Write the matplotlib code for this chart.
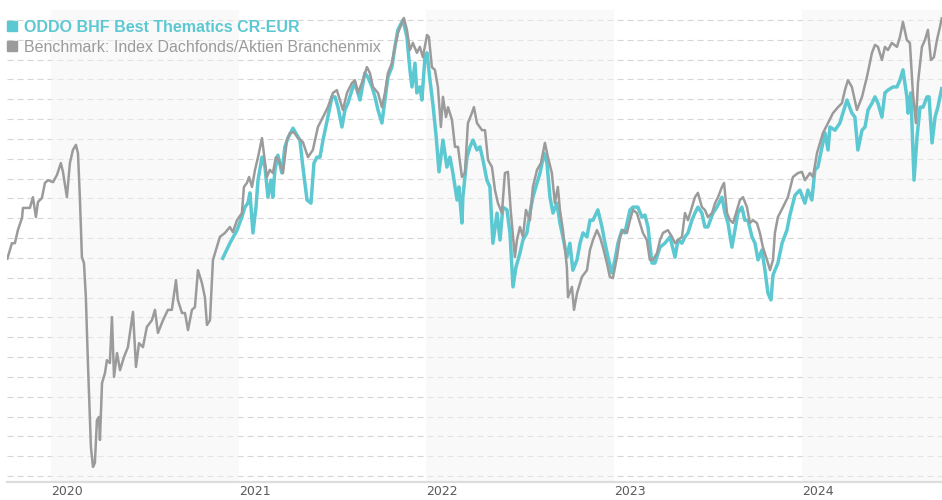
import numpy as np
import matplotlib
matplotlib.use("Agg")
import matplotlib.pyplot as plt
from matplotlib.lines import Line2D

# ---------------- data (decimal year, index level) ----------------
bench_t = [
    2019.766, 2019.792, 2019.808, 2019.824, 2019.846, 2019.851, 2019.888, 2019.904, 2019.920, 2019.931,
    2019.952, 2019.968, 2019.984,
    2020.011, 2020.032, 2020.053, 2020.064, 2020.085, 2020.101, 2020.117, 2020.133, 2020.144, 2020.154,
    2020.165, 2020.176, 2020.186, 2020.197, 2020.213, 2020.224, 2020.234, 2020.245, 2020.256, 2020.261,
    2020.272, 2020.288, 2020.298, 2020.314, 2020.325, 2020.336, 2020.352, 2020.368, 2020.389, 2020.410,
    2020.437, 2020.453, 2020.469, 2020.490, 2020.511, 2020.538, 2020.554, 2020.570, 2020.597, 2020.623,
    2020.644, 2020.666, 2020.676, 2020.698, 2020.714, 2020.730, 2020.751, 2020.767, 2020.783, 2020.804,
    2020.820, 2020.831, 2020.847, 2020.863, 2020.879, 2020.900, 2020.927, 2020.953, 2020.969, 2020.991,
    2021.017, 2021.028, 2021.044, 2021.055, 2021.071, 2021.087, 2021.103, 2021.124, 2021.134, 2021.150,
    2021.166, 2021.182, 2021.198, 2021.214, 2021.236, 2021.257, 2021.273, 2021.294, 2021.316, 2021.342,
    2021.369, 2021.395, 2021.422, 2021.449, 2021.475, 2021.502, 2021.523, 2021.539, 2021.555, 2021.577,
    2021.603, 2021.619, 2021.635, 2021.656, 2021.683, 2021.699, 2021.715, 2021.742, 2021.763, 2021.779,
    2021.795, 2021.816, 2021.832, 2021.848, 2021.880, 2021.896, 2021.912, 2021.928, 2021.949, 2021.965,
    2021.981,
    2022.003, 2022.013, 2022.029, 2022.045, 2022.061, 2022.077, 2022.088, 2022.104, 2022.115, 2022.136,
    2022.152, 2022.168, 2022.189, 2022.205, 2022.221, 2022.242, 2022.253, 2022.269, 2022.296, 2022.312,
    2022.328, 2022.349, 2022.365, 2022.381, 2022.402, 2022.418, 2022.434, 2022.450, 2022.471, 2022.482,
    2022.498, 2022.514, 2022.530, 2022.551, 2022.567, 2022.589, 2022.610, 2022.631, 2022.647, 2022.668,
    2022.684, 2022.700, 2022.711, 2022.727, 2022.748, 2022.754, 2022.775, 2022.786, 2022.802, 2022.828,
    2022.855, 2022.871, 2022.887, 2022.908, 2022.924, 2022.940, 2022.961, 2022.977, 2022.993,
    2023.015, 2023.031, 2023.047, 2023.068, 2023.084, 2023.100, 2023.121, 2023.137, 2023.153, 2023.174,
    2023.190, 2023.206, 2023.228, 2023.244, 2023.260, 2023.286, 2023.308, 2023.324, 2023.340, 2023.361,
    2023.377, 2023.393, 2023.414, 2023.430, 2023.446, 2023.467, 2023.483, 2023.499, 2023.521, 2023.537,
    2023.553, 2023.574, 2023.585, 2023.601, 2023.617, 2023.633, 2023.654, 2023.670, 2023.686, 2023.707,
    2023.723, 2023.739, 2023.760, 2023.776, 2023.792, 2023.814, 2023.830, 2023.846, 2023.856, 2023.872,
    2023.899, 2023.925, 2023.952, 2023.979,
    2024.000, 2024.016, 2024.043, 2024.059, 2024.080, 2024.096, 2024.112, 2024.139, 2024.165, 2024.192,
    2024.213, 2024.229, 2024.245, 2024.266, 2024.293, 2024.320, 2024.346, 2024.373, 2024.389, 2024.405,
    2024.426, 2024.442, 2024.458, 2024.479, 2024.506, 2024.522, 2024.538, 2024.559, 2024.575, 2024.591,
    2024.607, 2024.618, 2024.639, 2024.655, 2024.671, 2024.687, 2024.703, 2024.719, 2024.735, 2024.746,
]
bench_v = [
    54.5, 58.7, 58.7, 62.0, 65.1, 67.6, 67.6, 70.3, 65.3, 69.1,
    70.1, 73.9, 74.6,
    74.1, 75.9, 78.9, 76.7, 70.3, 78.9, 82.2, 83.5, 81.4, 70.3,
    55.2, 53.7, 45.1, 28.5, 7.3, 2.3, 3.3, 14.1, 14.9, 9.1,
    23.4, 26.0, 29.2, 28.5, 40.1, 25.0, 31.0, 26.7, 30.0, 32.5,
    41.4, 27.5, 33.5, 32.5, 37.6, 39.3, 41.9, 36.1, 39.3, 41.9,
    41.9, 49.4, 44.4, 41.1, 41.1, 36.8, 41.9, 42.6, 51.9, 48.7,
    45.1, 38.1, 39.3, 54.5, 57.0, 60.3, 61.3, 62.8, 61.5, 64.5,
    66.3, 72.9, 73.9, 75.4, 72.9, 77.2, 80.4, 85.2, 81.4, 75.4,
    77.2, 76.4, 80.4, 79.7, 76.4, 84.7, 86.5, 86.7, 85.2, 84.2,
    80.4, 82.2, 88.0, 90.5, 93.0, 96.6, 97.3, 94.8, 92.3, 96.6,
    99.1, 99.8, 96.6, 99.1, 103.1, 101.6, 98.1, 96.6, 93.0, 96.6,
    101.6, 104.1, 108.2, 111.7, 115.5, 112.5, 107.4, 109.2, 106.7, 108.2,
    105.6,
    111.2, 110.7, 103.1, 102.4, 98.1, 88.0, 95.6, 90.5, 93.0, 89.8,
    83.0, 83.0, 75.4, 76.4, 89.0, 91.5, 93.0, 89.0, 87.2, 87.2,
    79.7, 77.9, 72.1, 68.8, 66.3, 76.4, 76.7, 66.3, 55.2, 59.5,
    62.8, 60.3, 67.1, 64.5, 72.9, 77.2, 78.9, 84.0, 80.4, 76.4,
    68.8, 72.9, 67.1, 62.0, 52.7, 45.1, 47.7, 41.9, 46.1, 50.2,
    51.9, 57.0, 59.5, 62.0, 60.3, 57.7, 53.7, 50.2, 49.9,
    55.2, 60.3, 62.0, 61.3, 64.5, 67.1, 66.3, 63.8, 61.3, 59.5,
    54.5, 54.5, 56.2, 59.5, 61.3, 62.0, 60.3, 58.7, 59.5, 60.3,
    66.3, 64.5, 67.8, 70.3, 71.4, 67.8, 67.1, 65.3, 66.3, 68.8,
    70.3, 72.9, 73.9, 66.3, 64.5, 63.8, 67.1, 69.6, 70.3, 67.8,
    63.8, 64.5, 63.8, 61.3, 57.7, 54.5, 51.9, 54.5, 61.3, 65.3,
    67.8, 70.3, 75.4, 76.4,
    76.7, 74.6, 76.4, 75.4, 81.4, 84.0, 86.5, 89.0, 91.5, 93.0,
    94.0, 97.3, 99.8, 98.1, 92.3, 95.6, 100.6, 106.7, 108.7, 108.2,
    104.9, 108.2, 107.4, 109.2, 108.2, 110.7, 114.5, 109.9, 109.2, 96.6,
    89.0, 99.1, 108.2, 109.9, 112.5, 104.9, 105.6, 109.9, 113.2, 115.7,
]

fund_t = [
    2020.911, 2020.953, 2020.991,
    2021.017, 2021.033, 2021.049, 2021.060, 2021.076, 2021.092, 2021.103, 2021.124, 2021.140, 2021.156,
    2021.172, 2021.182, 2021.193, 2021.209, 2021.230, 2021.246, 2021.262, 2021.289, 2021.310, 2021.326,
    2021.342, 2021.364, 2021.385, 2021.401, 2021.417, 2021.433, 2021.449, 2021.475, 2021.497, 2021.513,
    2021.529, 2021.550, 2021.566, 2021.582, 2021.603, 2021.619, 2021.646, 2021.672, 2021.688, 2021.710,
    2021.726, 2021.742, 2021.763, 2021.779, 2021.795, 2021.816, 2021.832, 2021.848, 2021.875, 2021.896,
    2021.912, 2021.923, 2021.939, 2021.949, 2021.965, 2021.976, 2021.992,
    2022.003, 2022.019, 2022.035, 2022.051, 2022.067, 2022.088, 2022.109, 2022.125, 2022.141, 2022.163,
    2022.173, 2022.189, 2022.194, 2022.216, 2022.232, 2022.248, 2022.269, 2022.285, 2022.301, 2022.322,
    2022.338, 2022.354, 2022.376, 2022.392, 2022.407, 2022.429, 2022.445, 2022.461, 2022.477, 2022.498,
    2022.514, 2022.535, 2022.551, 2022.567, 2022.589, 2022.605, 2022.626, 2022.642, 2022.658, 2022.674,
    2022.695, 2022.711, 2022.727, 2022.748, 2022.764, 2022.780, 2022.802, 2022.818, 2022.834, 2022.855,
    2022.871, 2022.887, 2022.913, 2022.935, 2022.951, 2022.967, 2022.988,
    2023.004, 2023.020, 2023.041, 2023.057, 2023.084, 2023.100, 2023.126, 2023.148, 2023.164, 2023.180,
    2023.201, 2023.217, 2023.244, 2023.270, 2023.297, 2023.324, 2023.340, 2023.361, 2023.377, 2023.393,
    2023.414, 2023.430, 2023.446, 2023.467, 2023.483, 2023.499, 2023.526, 2023.547, 2023.574, 2023.590,
    2023.606, 2023.627, 2023.643, 2023.659, 2023.680, 2023.696, 2023.712, 2023.734, 2023.750, 2023.766,
    2023.787, 2023.803, 2023.819, 2023.835, 2023.846, 2023.872, 2023.894, 2023.920, 2023.936, 2023.963,
    2023.989,
    2024.016, 2024.032, 2024.053, 2024.069, 2024.085, 2024.107, 2024.123, 2024.139, 2024.149, 2024.176,
    2024.202, 2024.218, 2024.240, 2024.266, 2024.282, 2024.298, 2024.320, 2024.336, 2024.352, 2024.373,
    2024.389, 2024.405, 2024.426, 2024.442, 2024.458, 2024.485, 2024.506, 2024.522, 2024.538, 2024.559,
    2024.565, 2024.580, 2024.597, 2024.613, 2024.629, 2024.645, 2024.666, 2024.677, 2024.693, 2024.709,
    2024.724, 2024.746,
]
fund_v = [
    54.5, 58.7, 62.0,
    65.3, 67.8, 68.8, 71.4, 61.3, 67.8, 74.6, 80.4, 77.9, 70.3,
    74.6, 70.3, 77.2, 80.9, 76.4, 83.0, 85.2, 87.7, 86.0, 84.7,
    77.9, 69.6, 68.8, 78.9, 80.4, 80.4, 84.7, 90.5, 95.6, 95.6,
    93.0, 88.0, 92.3, 94.0, 97.3, 99.1, 94.8, 101.6, 100.6, 98.1,
    95.6, 92.3, 89.0, 94.8, 100.6, 103.1, 108.2, 112.5, 115.0, 110.7,
    102.4, 98.1, 104.1, 96.6, 98.1, 94.8, 105.6,
    106.7, 99.8, 93.5, 86.0, 76.7, 84.7, 77.9, 80.4, 76.4, 69.6,
    72.9, 63.8, 70.3, 80.4, 83.0, 84.7, 82.2, 83.0, 79.7, 74.6,
    72.9, 58.7, 66.3, 59.5, 67.8, 67.1, 61.3, 47.7, 52.7, 56.2,
    59.5, 61.3, 66.3, 70.3, 73.9, 76.4, 81.4, 78.9, 70.3, 66.3,
    68.8, 63.8, 60.3, 55.2, 58.7, 51.9, 54.5, 58.7, 61.3, 60.3,
    64.5, 64.5, 67.1, 62.8, 58.7, 55.2, 51.2,
    54.5, 58.7, 62.0, 61.3, 67.1, 67.8, 67.8, 65.3, 65.8, 62.8,
    53.7, 53.7, 57.7, 58.7, 60.3, 55.2, 59.5, 58.7, 60.3, 61.3,
    64.5, 66.3, 67.8, 66.3, 62.8, 62.8, 66.3, 67.8, 70.3, 66.3,
    63.8, 57.7, 62.0, 66.3, 67.8, 64.5, 64.5, 60.3, 58.7, 54.5,
    57.0, 51.9, 46.1, 44.4, 50.7, 53.7, 58.7, 62.0, 65.8, 70.8,
    72.1,
    68.8, 72.1, 69.6, 77.2, 77.9, 83.0, 86.5, 82.2, 88.0, 87.2,
    89.0, 91.5, 94.8, 91.5, 90.5, 82.2, 87.2, 88.0, 92.3, 94.0,
    95.6, 94.0, 90.5, 96.6, 97.3, 98.1, 98.1, 99.8, 102.4, 95.6,
    91.5, 96.6, 74.6, 85.5, 93.0, 93.0, 95.6, 95.6, 84.0, 90.5,
    93.0, 98.1,
]

years = [2020, 2021, 2022, 2023, 2024]
year_labels = ["2020", "2021", "2022", "2023", "2024"]
shaded_years = [2020, 2022, 2024]

fund_name = "ODDO BHF Best Thematics CR-EUR"
bench_name = "Benchmark: Index Dachfonds/Aktien Branchenmix"

assert len(bench_t) == len(bench_v)
assert len(fund_t) == len(fund_v)

# ---------------- styling ----------------
FUND_COLOR = "#5cc8d1"
BENCH_COLOR = "#9b9b9b"

fig = plt.figure(figsize=(9.42, 5.0), dpi=100)
ax = fig.add_axes([7 / 942, 18 / 500, 935 / 942, 472 / 500])

xmin, xmax = 2019.766, 2024.746
ax.set_xlim(xmin, xmax)
ax.set_ylim(-1.5, 117.5)

for y0 in shaded_years:
    ax.axvspan(y0, min(y0 + 1, xmax), color="#f4f4f4", alpha=0.5, lw=0, zorder=1)

ax.set_yticks(np.arange(0, 116, 5))
ax.set_yticklabels([])
ax.tick_params(axis="y", length=0)
ax.grid(axis="y", color="#d6d6d6", linestyle=(0, (5.5, 3.5)), linewidth=0.8, zorder=0.5)
ax.set_axisbelow(True)

ax.plot(fund_t, fund_v, color=FUND_COLOR, lw=2.5, zorder=3,
        solid_joinstyle="round", solid_capstyle="butt")
ax.plot(bench_t, bench_v, color=BENCH_COLOR, lw=1.8, zorder=4,
        solid_joinstyle="round", solid_capstyle="butt")

for s in ["top", "right", "left"]:
    ax.spines[s].set_visible(False)
ax.spines["bottom"].set_color("#dddddd")
ax.spines["bottom"].set_linewidth(1.6)

ax.set_xticks(years)
ax.set_xticklabels(year_labels, ha="left", fontsize=9, color="#5a5a5a",
                   family="DejaVu Sans")
ax.tick_params(axis="x", length=0, pad=2.5)

handles = [
    Line2D([], [], marker="s", linestyle="none", color=FUND_COLOR, markersize=7.5),
    Line2D([], [], marker="s", linestyle="none", color=BENCH_COLOR, markersize=7.5),
]
leg = fig.legend(handles, [fund_name, bench_name], loc="upper left",
                 bbox_to_anchor=(6 / 942, 1 - 20 / 500), bbox_transform=fig.transFigure,
                 frameon=False, prop={"family": "Liberation Sans", "size": 11.5},
                 handlelength=0.75, handletextpad=0.35, borderpad=0, borderaxespad=0,
                 labelspacing=0.3)
texts = leg.get_texts()
texts[0].set_color(FUND_COLOR)
texts[0].set_fontweight("bold")
texts[1].set_color("#9b9b9b")

fig.savefig("out.png", dpi=100, facecolor="white")
